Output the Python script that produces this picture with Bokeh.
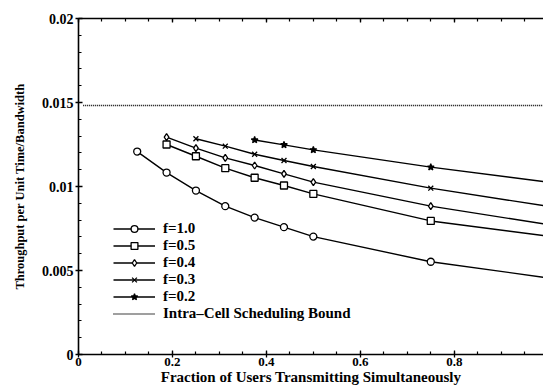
from bokeh.plotting import figure
from bokeh.models import LinearAxis, Legend, LegendItem, FixedTicker, Range1d, CustomJSTickFormatter
from bokeh.embed import file_html
from bokeh.resources import INLINE

# ---- data ----
x_f10 = [0.125, 0.1875, 0.25, 0.3125, 0.375, 0.4375, 0.5, 0.75, 1.0]
y_f10 = [0.01208, 0.01083, 0.00976, 0.00883, 0.00815, 0.00758, 0.00702, 0.00552, 0.00456]
x_f05 = [0.1875, 0.25, 0.3125, 0.375, 0.4375, 0.5, 0.75, 1.0]
y_f05 = [0.0125, 0.0118, 0.01109, 0.01052, 0.01006, 0.00956, 0.00795, 0.00704]
x_f04 = [0.1875, 0.25, 0.3125, 0.375, 0.4375, 0.5, 0.75, 1.0]
y_f04 = [0.01294, 0.01228, 0.0117, 0.01125, 0.01075, 0.01026, 0.00883, 0.00773]
x_f03 = [0.25, 0.3125, 0.375, 0.4375, 0.5, 0.75, 1.0]
y_f03 = [0.01284, 0.0124, 0.01192, 0.01155, 0.01119, 0.0099, 0.00882]
x_f02 = [0.375, 0.4375, 0.5, 0.75, 1.0]
y_f02 = [0.01277, 0.01248, 0.01218, 0.01115, 0.01026]
bound_x = [0.01, 1.0]
bound_y = [0.01482, 0.01482]

x_ticks = [0, 0.2, 0.4, 0.6, 0.8, 1.0]
x_tick_labels = ["0", "0.2", "0.4", "0.6", "0.8", "1"]
y_ticks = [0, 0.005, 0.01, 0.015, 0.02]
y_tick_labels = ["0", "0.005", "0.01", "0.015", "0.02"]

series = [
    ("f=1.0", x_f10, y_f10, "circle", "white"),
    ("f=0.5", x_f05, y_f05, "square", "white"),
    ("f=0.4", x_f04, y_f04, "diamond", "white"),
    ("f=0.3", x_f03, y_f03, "x", "white"),
    ("f=0.2", x_f02, y_f02, "star", "black"),
]

FONT = "Liberation Serif"

p = figure(frame_width=465, frame_height=336,
           x_range=Range1d(0, 0.99), y_range=Range1d(0, 0.02),
           output_backend="svg", toolbar_location=None,
           min_border_left=78, min_border_top=18, min_border_right=0,
           min_border_bottom=33, x_axis_label="Fraction of Users Transmitting Simultaneously",
           y_axis_label="Throughput per Unit Time/Bandwidth")
p.outline_line_color = None
p.grid.visible = False
p.background_fill_color = "white"
p.border_fill_color = "white"

items = []
for label, xs, ys, marker, fill in series:
    r1 = p.line(xs, ys, line_color="black", line_width=1.4)
    r2 = p.scatter(xs, ys, marker=marker, size=7, line_color="black",
                   fill_color=fill, line_width=1.3)
    items.append(LegendItem(label=label, renderers=[r1, r2]))

rb = p.line(bound_x, bound_y, line_color="black", line_width=1.3, line_dash="1 1")
items.append(LegendItem(label="Intra\u2013Cell Scheduling Bound", renderers=[rb]))

for ax, ticks, labels, step in [(p.xaxis[0], x_ticks, x_tick_labels, 0.05),
                                (p.yaxis[0], y_ticks, y_tick_labels, 0.001)]:
    ax.ticker = FixedTicker(ticks=ticks, minor_ticks=[i * step for i in range(0, 21)])
    ax.major_label_overrides = {t: l for t, l in zip(ticks, labels)}
    ax.axis_line_width = 1.6
    ax.axis_line_color = "black"
    ax.major_tick_line_color = "black"
    ax.minor_tick_line_color = "black"
    ax.major_tick_in = 4
    ax.major_tick_out = 3
    ax.minor_tick_in = 3
    ax.minor_tick_out = 0
    ax.major_tick_line_width = 1.3
    ax.minor_tick_line_width = 1.2
    ax.major_label_text_font = FONT
    ax.major_label_text_font_style = "bold"
    ax.major_label_text_font_size = "13px"
    ax.major_label_text_color = "black"
    ax.axis_label_text_font = FONT
    ax.axis_label_text_font_style = "bold"
    ax.axis_label_text_color = "black"
    ax.major_label_standoff = 0
    ax.axis_label_standoff = 0

p.xaxis[0].axis_label_text_font_size = "15px"
p.yaxis[0].axis_label_text_font_size = "12.5px"
p.yaxis[0].major_label_text_font_size = "14px"
p.yaxis[0].major_label_standoff = 2
p.yaxis[0].axis_label_standoff = 12

top = LinearAxis(ticker=FixedTicker(ticks=x_ticks, minor_ticks=[i * 0.05 for i in range(0, 21)]),
                 formatter=CustomJSTickFormatter(code="return ''"),
                 axis_line_width=1.6, axis_line_color="black",
                 major_tick_line_color="black", minor_tick_line_color="black",
                 major_tick_in=4, major_tick_out=0, minor_tick_in=3, minor_tick_out=0,
                 major_tick_line_width=1.3, minor_tick_line_width=1.2)
p.add_layout(top, "above")

legend = Legend(items=items, location=(35, 32), padding=0, margin=0, spacing=0,
                glyph_width=42, glyph_height=17, label_height=17, label_standoff=8,
                label_text_font=FONT, label_text_font_style="bold", label_text_font_size="15px",
                label_text_color="black",
                border_line_color=None, background_fill_alpha=0)
p.add_layout(legend, "center")

open("out.html", "w").write(file_html(p, INLINE))
